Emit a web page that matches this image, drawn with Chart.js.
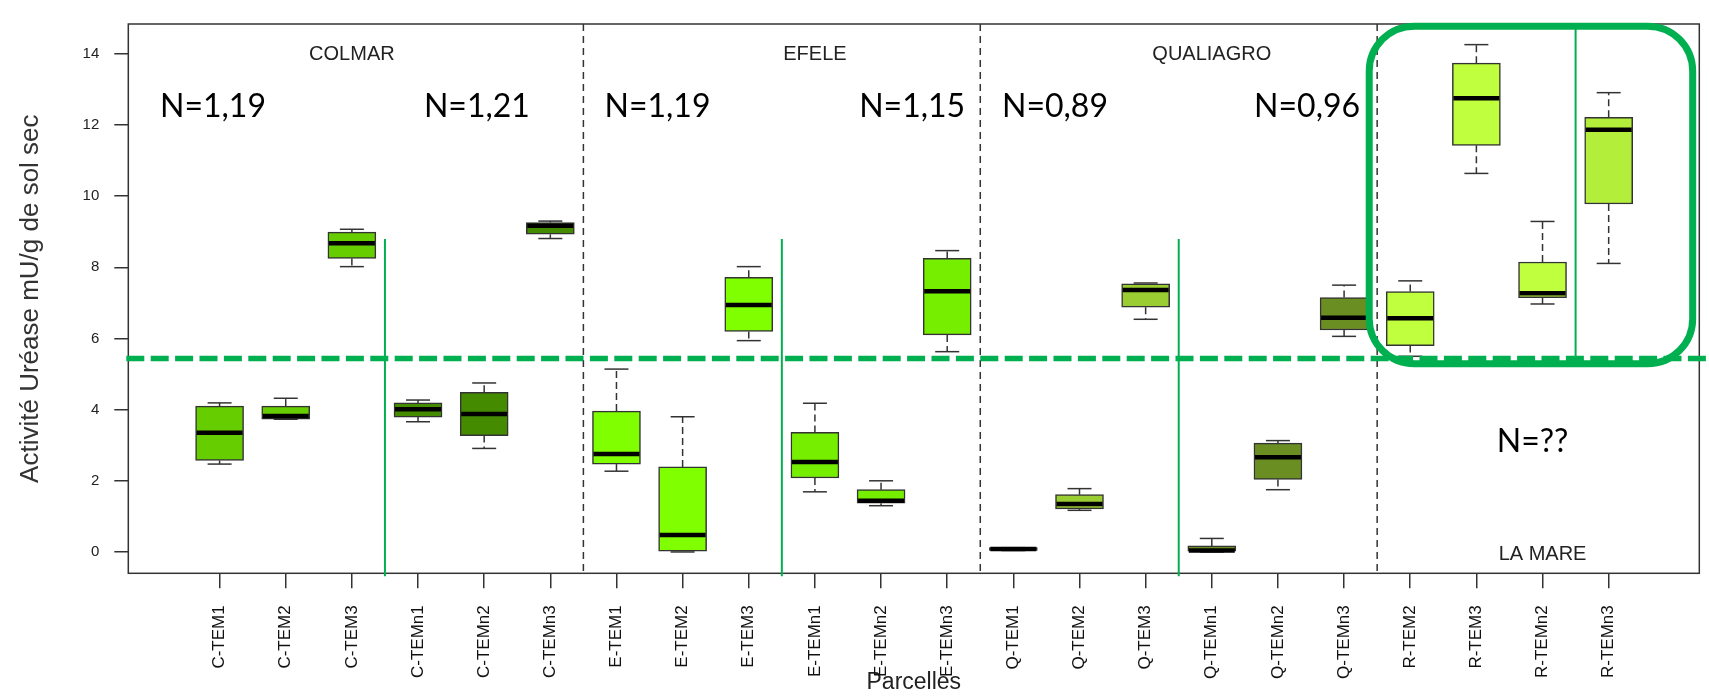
<!DOCTYPE html>
<html>
<head>
<meta charset="utf-8">
<script src="https://cdn.jsdelivr.net/npm/chart.js@4.4.1/dist/chart.umd.min.js"></script>
<style>
    body { margin: 0; background: #fff; }
    canvas { display: block; }
</style>
</head>
<body>
<canvas id="ureaseChart" width="1709" height="699"></canvas>
<script>
const categories = ['C-TEM1', 'C-TEM2', 'C-TEM3', 'C-TEMn1', 'C-TEMn2', 'C-TEMn3',
    'E-TEM1', 'E-TEM2', 'E-TEM3', 'E-TEMn1', 'E-TEMn2', 'E-TEMn3',
    'Q-TEM1', 'Q-TEM2', 'Q-TEM3', 'Q-TEMn1', 'Q-TEMn2', 'Q-TEMn3',
    'R-TEM2', 'R-TEM3', 'R-TEMn2', 'R-TEMn3'];

// box plot statistics
const lowerWhisker = [2.47, 3.73, 8.02, 3.66, 2.91, 8.81, 2.27, 0.00, 5.94, 1.69, 1.30, 5.63,
    0.04, 1.17, 6.54, 0.00, 1.75, 6.06, 5.50, 10.64, 6.97, 8.11];
const q1 = [2.57, 3.73, 8.25, 3.79, 3.27, 8.93, 2.47, 0.00, 6.20, 2.08, 1.37, 6.10,
    0.04, 1.21, 6.88, 0.00, 2.04, 6.24, 5.80, 11.43, 7.15, 9.78];
const median = [3.35, 3.82, 8.68, 4.01, 3.88, 9.17, 2.75, 0.48, 6.94, 2.53, 1.44, 7.33,
    0.08, 1.35, 7.36, 0.04, 2.66, 6.58, 6.57, 12.75, 7.27, 11.87];
const q3 = [4.10, 4.10, 8.99, 4.19, 4.49, 9.26, 3.96, 2.39, 7.72, 3.36, 1.75, 8.25,
    0.12, 1.61, 7.54, 0.17, 3.06, 7.15, 7.32, 13.74, 8.15, 12.22];
const upperWhisker = [4.19, 4.32, 9.07, 4.27, 4.75, 9.30, 5.14, 3.80, 8.02, 4.18, 2.00, 8.47,
    0.12, 1.78, 7.56, 0.38, 3.13, 7.50, 7.62, 14.26, 9.29, 12.91];

const yTicks = [0, 2, 4, 6, 8, 10, 12, 14];

const boxColors = ['#66CD00', '#66CD00', '#66CD00', '#458B00', '#458B00', '#458B00',
    '#7FFF00', '#7FFF00', '#7FFF00', '#76EE00', '#76EE00', '#76EE00',
    '#9ACD32', '#9ACD32', '#9ACD32', '#6B8E23', '#6B8E23', '#6B8E23',
    '#C0FF3E', '#C0FF3E', '#C0FF3E', '#B3EE3A'];

// annotations (axis units)
const siteLabels = [
    { text: 'COLMAR', x: 2, y: 13.97 },
    { text: 'EFELE', x: 9, y: 13.97 },
    { text: 'QUALIAGRO', x: 15, y: 13.97 },
    { text: 'LA MARE', x: 20, y: -0.07 }
];
const nLabels = [
    { text: 'N=1,19', x: -0.1, y: 12.52 },
    { text: 'N=1,21', x: 3.89, y: 12.52 },
    { text: 'N=1,19', x: 6.62, y: 12.52 },
    { text: 'N=1,15', x: 10.47, y: 12.52 },
    { text: 'N=0,89', x: 12.63, y: 12.52 },
    { text: 'N=0,96', x: 16.44, y: 12.52 },
    { text: 'N=??', x: 19.85, y: 3.09 }
];
const siteSeparators = [5.5, 11.5, 17.5];
const treatmentSplits = [
    { x: 2.5, from: 8.8 },
    { x: 8.5, from: 8.8 },
    { x: 14.5, from: 8.8 }
];
const thresholdValue = 5.44;
const highlightBox = { x1: 17.38, x2: 22.27, y1: 14.78, y2: 5.29, splitX: 20.5 };

const FONT = '"Liberation Sans", Arial, sans-serif';
const GREEN = '#00B050';

document.addEventListener('DOMContentLoaded', function() {
    const ctx = document.getElementById('ureaseChart').getContext('2d');

    function line(c, x1, y1, x2, y2) {
        c.beginPath();
        c.moveTo(x1, y1);
        c.lineTo(x2, y2);
        c.stroke();
    }

    const boxPlotPlugin = {
        id: 'boxPlot',
        beforeDatasetsDraw(chart) {
            const { ctx: c, chartArea, scales: { x } } = chart;
            c.save();
            c.strokeStyle = '#333';
            c.lineWidth = 1.5;
            c.setLineDash([7, 5]);
            siteSeparators.forEach(v => {
                const px = x.getPixelForValue(v);
                line(c, px, chartArea.top, px, chartArea.bottom);
            });
            c.restore();
        },
        afterDatasetsDraw(chart) {
            const { ctx: c, scales: { x, y } } = chart;
            const bars = chart.getDatasetMeta(0).data;
            c.save();
            categories.forEach((cat, i) => {
                const px = x.getPixelForValue(i);
                const half = bars[i].width / 2;
                const cap = half / 2;
                const yLo = y.getPixelForValue(lowerWhisker[i]);
                const yQ1 = y.getPixelForValue(q1[i]);
                const yQ3 = y.getPixelForValue(q3[i]);
                const yHi = y.getPixelForValue(upperWhisker[i]);
                const yMed = y.getPixelForValue(median[i]);

                c.strokeStyle = '#333';
                c.lineWidth = 1.5;
                c.setLineDash([7, 4]);
                if (yHi < yQ3 - 1) line(c, px, yQ3, px, yHi);
                if (yLo > yQ1 + 1) line(c, px, yQ1, px, yLo);
                c.setLineDash([]);
                line(c, px - cap, yHi, px + cap, yHi);
                line(c, px - cap, yLo, px + cap, yLo);

                c.strokeStyle = '#000';
                c.lineWidth = 4.5;
                line(c, px - half + 1, yMed, px + half - 1, yMed);
            });
            c.restore();
        },
        afterDraw(chart) {
            const { ctx: c, chartArea, scales: { x, y } } = chart;
            c.save();
            // plot frame
            c.strokeStyle = '#333';
            c.lineWidth = 1.5;
            c.strokeRect(chartArea.left, chartArea.top, chartArea.right - chartArea.left, chartArea.bottom - chartArea.top);

            // site names
            c.fillStyle = '#222';
            c.font = '20px ' + FONT;
            c.textAlign = 'center';
            c.textBaseline = 'middle';
            siteLabels.forEach(l => c.fillText(l.text, x.getPixelForValue(l.x), y.getPixelForValue(l.y)));

            // N values
            c.fillStyle = '#000';
            c.font = '32px Lato, "Open Sans", sans-serif';
            nLabels.forEach(l => c.fillText(l.text, x.getPixelForValue(l.x), y.getPixelForValue(l.y)));

            // green treatment split lines
            c.strokeStyle = GREEN;
            c.lineWidth = 2;
            treatmentSplits.forEach(s => {
                const px = x.getPixelForValue(s.x);
                line(c, px, y.getPixelForValue(s.from), px, chartArea.bottom + 3);
            });
            const splitX = x.getPixelForValue(highlightBox.splitX);
            line(c, splitX, y.getPixelForValue(highlightBox.y1), splitX, y.getPixelForValue(highlightBox.y2));

            // threshold dashed line
            c.lineWidth = 5.5;
            c.setLineDash([18, 6.4]);
            const ty = y.getPixelForValue(thresholdValue);
            line(c, chartArea.left - 2, ty, chart.width, ty);
            c.setLineDash([]);

            // highlight rounded box
            const bx1 = x.getPixelForValue(highlightBox.x1);
            const bx2 = x.getPixelForValue(highlightBox.x2);
            const by1 = y.getPixelForValue(highlightBox.y1);
            const by2 = y.getPixelForValue(highlightBox.y2);
            c.lineWidth = 7;
            c.beginPath();
            c.roundRect(bx1, by1, bx2 - bx1, by2 - by1, 45);
            c.stroke();
            c.restore();
        }
    };

    new Chart(ctx, {
        type: 'bar',
        data: {
            datasets: [{
                data: categories.map((cat, i) => ({ x: i, y: [q1[i], q3[i]] })),
                backgroundColor: boxColors,
                borderColor: '#333',
                borderWidth: 1.5,
                borderSkipped: false,
                barThickness: 48
            }]
        },
        options: {
            responsive: false,
            animation: false,
            devicePixelRatio: 1,
            layout: { padding: { top: 8, right: 9.7, left: 0, bottom: 0 } },
            plugins: {
                legend: { display: false },
                tooltip: { enabled: false }
            },
            scales: {
                x: {
                    type: 'linear',
                    min: -1.38,
                    max: 22.37,
                    offset: false,
                    afterBuildTicks: scale => {
                        scale.ticks = categories.map((cat, i) => ({ value: i }));
                    },
                    afterFit: scale => { scale.height = 125.7; },
                    grid: { display: true, offset: false, drawOnChartArea: false, drawTicks: true, tickLength: 15, color: '#333', lineWidth: 1.5 },
                    border: { display: false },
                    ticks: {
                        autoSkip: false,
                        minRotation: 90,
                        maxRotation: 90,
                        padding: 17,
                        color: '#111',
                        font: { family: FONT, size: 17 },
                        callback: value => categories[value]
                    },
                    title: {
                        display: true,
                        text: 'Parcelles',
                        color: '#222',
                        font: { family: FONT, size: 23 },
                        padding: { top: 0, bottom: 2.5 }
                    }
                },
                y: {
                    min: -0.60,
                    max: 14.84,
                    afterBuildTicks: scale => {
                        scale.ticks = yTicks.map(v => ({ value: v }));
                    },
                    afterFit: scale => { scale.width = 128.3; },
                    grid: { display: true, drawOnChartArea: false, drawTicks: true, tickLength: 14, color: '#333', lineWidth: 1.5 },
                    border: { display: false },
                    ticks: {
                        padding: 15,
                        color: '#222',
                        font: { family: FONT, size: 15 }
                    },
                    title: {
                        display: true,
                        text: 'Activité Uréase mU/g de sol sec',
                        color: '#333',
                        font: { family: FONT, size: 26 },
                        padding: { top: 15, bottom: 0 }
                    }
                }
            }
        },
        plugins: [boxPlotPlugin]
    });
});
</script>
</body>
</html>
